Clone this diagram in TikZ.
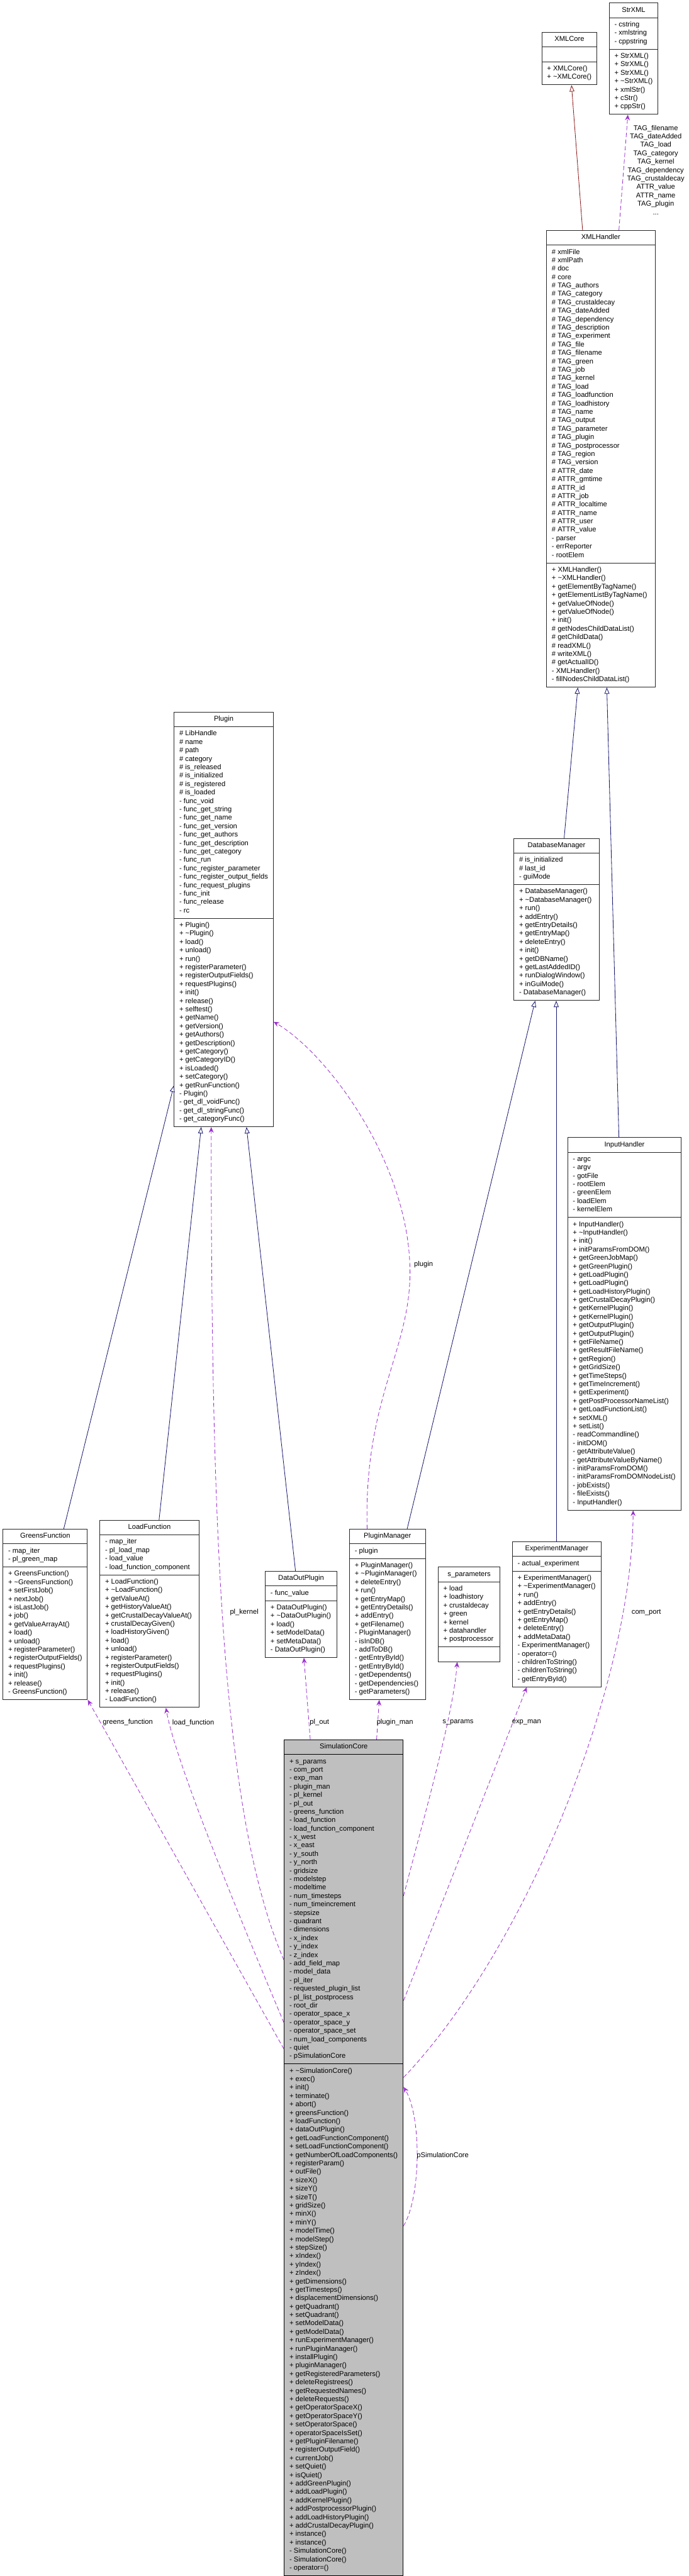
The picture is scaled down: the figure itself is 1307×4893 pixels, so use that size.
\documentclass[tikz,border=0pt]{standalone}
\usepackage{fontspec}
\setmainfont{Liberation Sans}
\usepackage{tikz}
\usetikzlibrary{arrows.meta,calc,shapes.multipart}
\definecolor{midnight}{HTML}{191970}
\definecolor{orchid}{HTML}{9A32CD}
\definecolor{brickred}{HTML}{8B1A1A}
\definecolor{coregrey}{HTML}{BFBFBF}

\begin{document}
\begin{tikzpicture}[x=0.75pt,y=-0.75pt,
  classbox/.style={rectangle split,rectangle split parts=3,rectangle split ignore empty parts=false,
    rectangle split part align={center,left,left},
    draw=black!85,line width=0.9pt,fill=white,anchor=north west,inner xsep=7.5pt,inner ysep=4pt,
    align=left,font=\fontsize{10}{12}\selectfont},
  isa/.style={midnight,line width=0.75pt,-{Triangle[open,length=9pt,width=7pt,fill=white]}},
  uses/.style={orchid,line width=0.75pt,dash pattern=on 6pt off 3.5pt,-{Stealth[length=8pt,width=7pt]}},
  role/.style={font=\fontsize{10}{12}\selectfont,inner sep=0pt,anchor=west}]
  \useasboundingbox (0,0) rectangle (1307,4893);

  % XML helpers
  \node[classbox] (strxml) at (1156,5) {\makebox[54pt]{\strut StrXML}
    \nodepart{two}\strut - cstring\\ - xmlstring\\ - cppstring\strut
    \nodepart{three}\strut + StrXML()\\ + StrXML()\\ + StrXML()\\ + \textasciitilde StrXML()\\ + xmlStr()\\ + cStr()\\ + cppStr()\strut};
  \node[classbox] (xmlcore) at (1028,61) {\makebox[63.75pt]{\strut XMLCore}
    \nodepart{two}\strut
    \nodepart{three}\strut + XMLCore()\\ + \textasciitilde XMLCore()\strut};

  \node[classbox] (xmlhandler) at (1037,437) {\makebox[139.5pt]{\strut XMLHandler}
    \nodepart{two}\strut \# xmlFile\\ \# xmlPath\\ \# doc\\ \# core\\ \# TAG\_authors\\ \# TAG\_category\\
      \# TAG\_crustaldecay\\ \# TAG\_dateAdded\\ \# TAG\_dependency\\ \# TAG\_description\\ \# TAG\_experiment\\
      \# TAG\_file\\ \# TAG\_filename\\ \# TAG\_green\\ \# TAG\_job\\ \# TAG\_kernel\\ \# TAG\_load\\
      \# TAG\_loadfunction\\ \# TAG\_loadhistory\\ \# TAG\_name\\ \# TAG\_output\\ \# TAG\_parameter\\
      \# TAG\_plugin\\ \# TAG\_postprocessor\\ \# TAG\_region\\ \# TAG\_version\\ \# ATTR\_date\\
      \# ATTR\_gmtime\\ \# ATTR\_id\\ \# ATTR\_job\\ \# ATTR\_localtime\\ \# ATTR\_name\\ \# ATTR\_user\\
      \# ATTR\_value\\ - parser\\ - errReporter\\ - rootElem\strut
    \nodepart{three}\strut + XMLHandler()\\ + \textasciitilde XMLHandler()\\ + getElementByTagName()\\
      + getElementListByTagName()\\ + getValueOfNode()\\ + getValueOfNode()\\ + init()\\
      \# getNodesChildDataList()\\ \# getChildData()\\ \# readXML()\\ \# writeXML()\\ \# getActualID()\\
      - XMLHandler()\\ - fillNodesChildDataList()\strut};

  % Plugin base
  \node[classbox] (plugin) at (330,1352) {\makebox[124.5pt]{\strut Plugin}
    \nodepart{two}\strut \# LibHandle\\ \# name\\ \# path\\ \# category\\ \# is\_released\\ \# is\_initialized\\
      \# is\_registered\\ \# is\_loaded\\ - func\_void\\ - func\_get\_string\\ - func\_get\_name\\
      - func\_get\_version\\ - func\_get\_authors\\ - func\_get\_description\\ - func\_get\_category\\
      - func\_run\\ - func\_register\_parameter\\ - func\_register\_output\_fields\\ - func\_request\_plugins\\
      - func\_init\\ - func\_release\\ - rc\strut
    \nodepart{three}\strut + Plugin()\\ + \textasciitilde Plugin()\\ + load()\\ + unload()\\ + run()\\
      + registerParameter()\\ + registerOutputFields()\\ + requestPlugins()\\ + init()\\ + release()\\
      + selftest()\\ + getName()\\ + getVersion()\\ + getAuthors()\\ + getDescription()\\ + getCategory()\\
      + getCategoryID()\\ + isLoaded()\\ + setCategory()\\ + getRunFunction()\\ - Plugin()\\
      - get\_dl\_voidFunc()\\ - get\_dl\_stringFunc()\\ - get\_categoryFunc()\strut};

  \node[classbox] (dbmanager) at (975,1592) {\makebox[106.5pt]{\strut DatabaseManager}
    \nodepart{two}\strut \# is\_initialized\\ \# last\_id\\ - guiMode\strut
    \nodepart{three}\strut + DatabaseManager()\\ + \textasciitilde DatabaseManager()\\ + run()\\ + addEntry()\\
      + getEntryDetails()\\ + getEntryMap()\\ + deleteEntry()\\ + init()\\ + getDBName()\\ + getLastAddedID()\\
      + runDialogWindow()\\ + inGuiMode()\\ - DatabaseManager()\strut};

  \node[classbox] (inputhandler) at (1077,2160) {\makebox[147pt]{\strut InputHandler}
    \nodepart{two}\strut - argc\\ - argv\\ - gotFile\\ - rootElem\\ - greenElem\\ - loadElem\\ - kernelElem\strut
    \nodepart{three}\strut + InputHandler()\\ + \textasciitilde InputHandler()\\ + init()\\ + initParamsFromDOM()\\
      + getGreenJobMap()\\ + getGreenPlugin()\\ + getLoadPlugin()\\ + getLoadPlugin()\\ + getLoadHistoryPlugin()\\
      + getCrustalDecayPlugin()\\ + getKernelPlugin()\\ + getKernelPlugin()\\ + getOutputPlugin()\\
      + getOutputPlugin()\\ + getFileName()\\ + getResultFileName()\\ + getRegion()\\ + getGridSize()\\
      + getTimeSteps()\\ + getTimeIncrement()\\ + getExperiment()\\ + getPostProcessorNameList()\\
      + getLoadFunctionList()\\ + setXML()\\ + setList()\\ - readCommandline()\\ - initDOM()\\
      - getAttributeValue()\\ - getAttributeValueByName()\\ - initParamsFromDOM()\\
      - initParamsFromDOMNodeList()\\ - jobExists()\\ - fileExists()\\ - InputHandler()\strut};

  % Plugin kinds and managers
  \node[classbox] (greens) at (5,2904) {\makebox[105pt]{\strut GreensFunction}
    \nodepart{two}\strut - map\_iter\\ - pl\_green\_map\strut
    \nodepart{three}\strut + GreensFunction()\\ + \textasciitilde GreensFunction()\\ + setFirstJob()\\ + nextJob()\\
      + isLastJob()\\ + job()\\ + getValueArrayAt()\\ + load()\\ + unload()\\ + registerParameter()\\
      + registerOutputFields()\\ + requestPlugins()\\ + init()\\ + release()\\ - GreensFunction()\strut};
  \node[classbox] (loadfn) at (189,2887) {\makebox[126pt]{\strut LoadFunction}
    \nodepart{two}\strut - map\_iter\\ - pl\_load\_map\\ - load\_value\\ - load\_function\_component\strut
    \nodepart{three}\strut + LoadFunction()\\ + \textasciitilde LoadFunction()\\ + getValueAt()\\ + getHistoryValueAt()\\
      + getCrustalDecayValueAt()\\ + crustalDecayGiven()\\ + loadHistoryGiven()\\ + load()\\ + unload()\\
      + registerParameter()\\ + registerOutputFields()\\ + requestPlugins()\\ + init()\\ + release()\\
      - LoadFunction()\strut};
  \node[classbox] (dataout) at (503,2984) {\makebox[87pt]{\strut DataOutPlugin}
    \nodepart{two}\strut - func\_value\strut
    \nodepart{three}\strut + DataOutPlugin()\\ + \textasciitilde DataOutPlugin()\\ + load()\\ + setModelData()\\
      + setMetaData()\\ - DataOutPlugin()\strut};
  \node[classbox] (pluginman) at (663,2904) {\makebox[93pt]{\strut PluginManager}
    \nodepart{two}\strut - plugin\strut
    \nodepart{three}\strut + PluginManager()\\ + \textasciitilde PluginManager()\\ + deleteEntry()\\ + run()\\
      + getEntryMap()\\ + getEntryDetails()\\ + addEntry()\\ + getFilename()\\ - PluginManager()\\ - isInDB()\\
      - addToDB()\\ - getEntryById()\\ - getEntryById()\\ - getDependents()\\ - getDependencies()\\
      - getParameters()\strut};
  \node[classbox] (sparams) at (831,2976) {\makebox[73.5pt]{\strut s\_parameters}
    \nodepart{two}\strut + load\\ + loadhistory\\ + crustaldecay\\ + green\\ + kernel\\ + datahandler\\ + postprocessor\strut
    \nodepart{three}\strut};
  \node[classbox] (expman) at (972,2928) {\makebox[111.75pt]{\strut ExperimentManager}
    \nodepart{two}\strut - actual\_experiment\strut
    \nodepart{three}\strut + ExperimentManager()\\ + \textasciitilde ExperimentManager()\\ + run()\\ + addEntry()\\
      + getEntryDetails()\\ + getEntryMap()\\ + deleteEntry()\\ + addMetaData()\\ - ExperimentManager()\\
      - operator=()\\ - childrenToString()\\ - childrenToString()\\ - getEntryById()\strut};

  % Core
  \node[classbox,fill=coregrey,draw=black] (simcore) at (539,3304) {\makebox[154.5pt]{\strut SimulationCore}
    \nodepart{two}\strut + s\_params\\ - com\_port\\ - exp\_man\\ - plugin\_man\\ - pl\_kernel\\ - pl\_out\\
      - greens\_function\\ - load\_function\\ - load\_function\_component\\ - x\_west\\ - x\_east\\ - y\_south\\
      - y\_north\\ - gridsize\\ - modelstep\\ - modeltime\\ - num\_timesteps\\ - num\_timeincrement\\ - stepsize\\
      - quadrant\\ - dimensions\\ - x\_index\\ - y\_index\\ - z\_index\\ - add\_field\_map\\ - model\_data\\
      - pl\_iter\\ - requested\_plugin\_list\\ - pl\_list\_postprocess\\ - root\_dir\\ - operator\_space\_x\\
      - operator\_space\_y\\ - operator\_space\_set\\ - num\_load\_components\\ - quiet\\ - pSimulationCore\strut
    \nodepart{three}\strut + \textasciitilde SimulationCore()\\ + exec()\\ + init()\\ + terminate()\\ + abort()\\
      + greensFunction()\\ + loadFunction()\\ + dataOutPlugin()\\ + getLoadFunctionComponent()\\
      + setLoadFunctionComponent()\\ + getNumberOfLoadComponents()\\ + registerParam()\\ + outFile()\\
      + sizeX()\\ + sizeY()\\ + sizeT()\\ + gridSize()\\ + minX()\\ + minY()\\ + modelTime()\\ + modelStep()\\
      + stepSize()\\ + xIndex()\\ + yIndex()\\ + zIndex()\\ + getDimensions()\\ + getTimesteps()\\
      + displacementDimensions()\\ + getQuadrant()\\ + setQuadrant()\\ + setModelData()\\ + getModelData()\\
      + runExperimentManager()\\ + runPluginManager()\\ + installPlugin()\\ + pluginManager()\\
      + getRegisteredParameters()\\ + deleteRegistrees()\\ + getRequestedNames()\\ + deleteRequests()\\
      + getOperatorSpaceX()\\ + getOperatorSpaceY()\\ + setOperatorSpace()\\ + operatorSpaceIsSet()\\
      + getPluginFilename()\\ + registerOutputField()\\ + currentJob()\\ + setQuiet()\\ + isQuiet()\\
      + addGreenPlugin()\\ + addLoadPlugin()\\ + addKernelPlugin()\\ + addPostprocessorPlugin()\\
      + addLoadHistoryPlugin()\\ + addCrustalDecayPlugin()\\ + instance()\\ + instance()\\
      - SimulationCore()\\ - SimulationCore()\\ - operator=()\strut};

  % Inheritance
  \draw[isa,brickred] ($(xmlhandler.north west)+(69,0)$) -- ($(xmlcore.south west)+(57,0)$);
  \draw[isa] ($(dbmanager.north west)+(96,0)$) -- ($(xmlhandler.south west)+(60,0)$);
  \draw[isa] ($(inputhandler.north west)+(98,0)$) -- ($(xmlhandler.south west)+(115,0)$);
  \draw[isa] ($(pluginman.north west)+(110,0)$) -- ($(dbmanager.south west)+(41,0)$);
  \draw[isa] ($(expman.north west)+(84,0)$) -- ($(dbmanager.south west)+(81,0)$);
  \draw[isa] ($(greens.north west)+(116,0)$) -- ($(plugin.north west)+(0,710)$);
  \draw[isa] ($(loadfn.north west)+(113,0)$) -- ($(plugin.south west)+(52,0)$);
  \draw[isa] ($(dataout.north west)+(58,0)$) -- ($(plugin.south west)+(138,0)$);

  % Usage
  \draw[uses] ($(xmlhandler.north west)+(138,0)$) -- ($(strxml.south west)+(36,0)$);
  \node[font=\fontsize{10}{12}\selectfont,align=center,anchor=north,inner sep=0pt] (lbltags) at (1245,236)
    {\strut TAG\_filename\\ TAG\_dateAdded\\ TAG\_load\\ TAG\_category\\ TAG\_kernel\\ TAG\_dependency\\
     TAG\_crustaldecay\\ ATTR\_value\\ ATTR\_name\\ TAG\_plugin\\ ...\strut};

  \draw[uses] ($(pluginman.north west)+(34,0)$) .. controls (690,2650) and (785,2560) .. (778,2400)
    .. controls (770,2200) and (620,2000) .. ($(plugin.south east)+(0,-200)$);
  \node[role] (lblplugin) at (786,2402) {plugin};

  \draw[uses] ($(simcore.north west)+(0,419)$) .. controls (420,3450) and (401,2900) .. ($(plugin.south west)+(71,0)$);
  \node[role,anchor=east] (lblkernel) at (491,3063) {pl\_kernel};
  \draw[uses] ($(simcore.north west)+(0,588)$) -- (greens.south east);
  \node[role] (lblgreens) at (195,3272) {greens\_function};
  \draw[uses] ($(simcore.north west)+(0,538)$) .. controls (420,3560) and (330,3330) .. ($(loadfn.south west)+(126,0)$);
  \node[role] (lblload) at (327,3272) {load\_function};
  \draw[uses] ($(simcore.north west)+(50,0)$) -- ($(dataout.south west)+(74,0)$);
  \node[role] (lblout) at (588,3272) {pl\_out};
  \draw[uses] ($(simcore.north west)+(176,0)$) -- ($(pluginman.south west)+(57,0)$);
  \node[role] (lblman) at (715,3272) {plugin\_man};
  \draw[uses] ($(simcore.north east)+(0,297)$) .. controls (805,3450) and (860,3260) .. ($(sparams.south west)+(37,0)$);
  \node[role] (lblsparams) at (840,3272) {s\_params};
  \draw[uses] ($(simcore.north east)+(0,496)$) -- ($(expman.south west)+(28,0)$);
  \node[role] (lblexp) at (972,3271) {exp\_man};
  \draw[uses] ($(simcore.north east)+(0,642)$) .. controls (1000,3700) and (1200,3200) .. ($(inputhandler.south west)+(125,0)$);
  \node[role] (lblcom) at (1199,3063) {com\_port};
  \draw[uses] ($(simcore.north east)+(0,924)$) .. controls (800,4170) and (800,4020) .. ($(simcore.north east)+(0,660)$);
  \node[role] (lblself) at (791,4095) {pSimulationCore};
\end{tikzpicture}
\end{document}
